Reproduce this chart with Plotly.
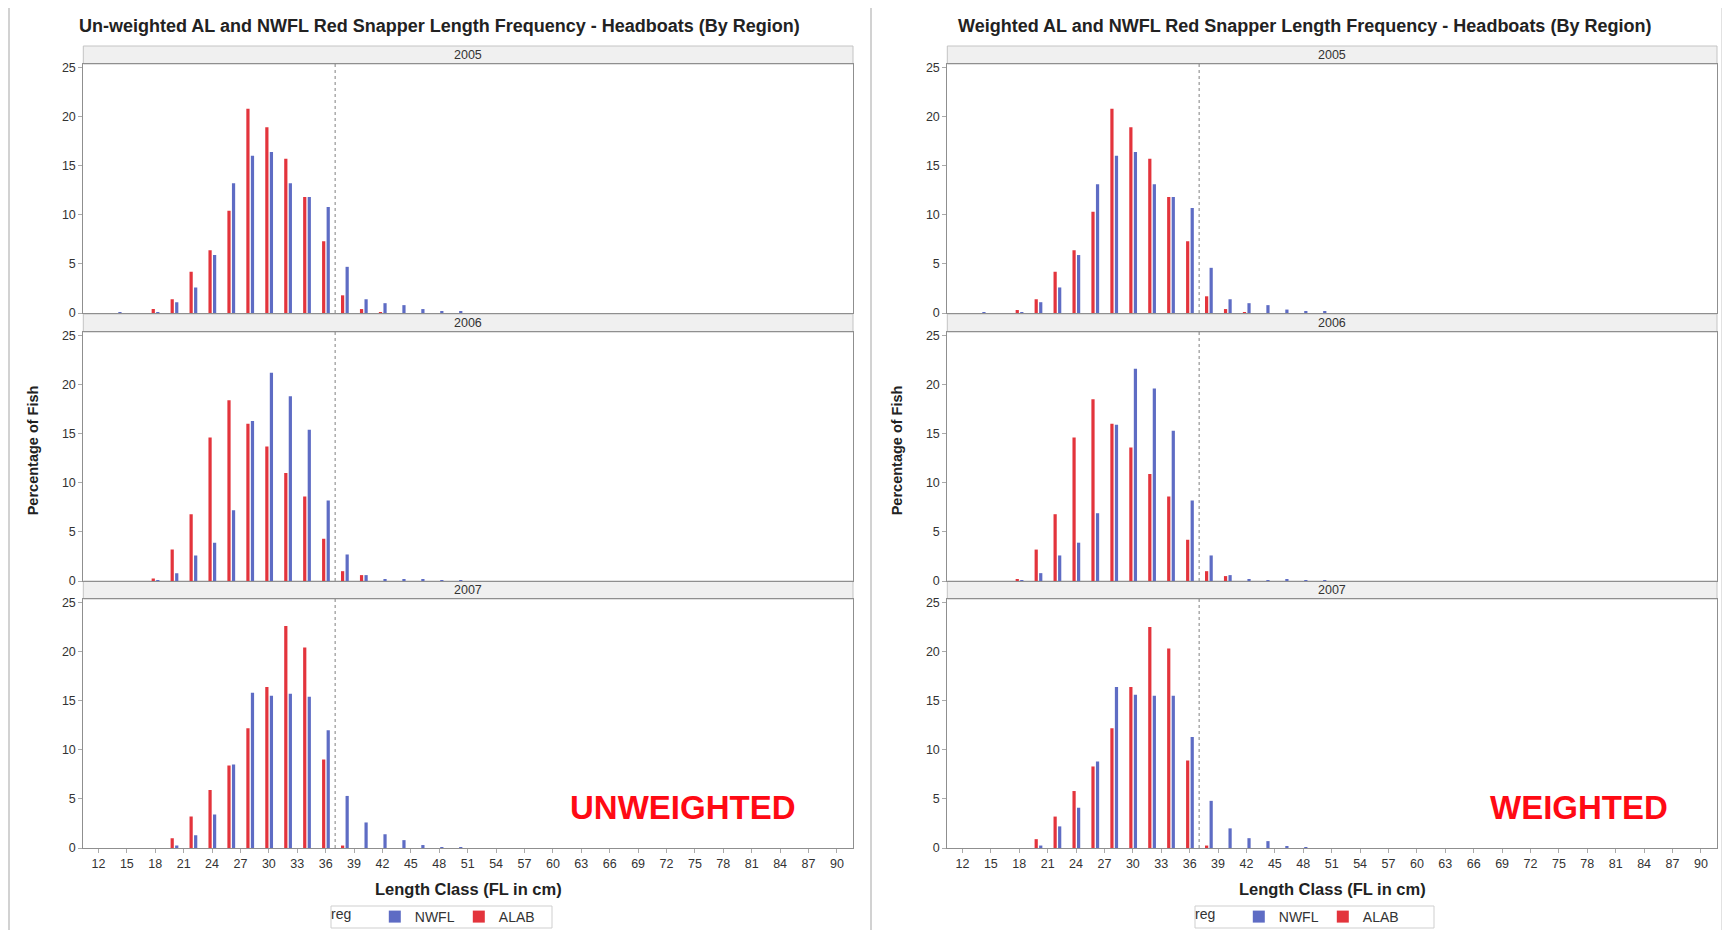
import plotly.graph_objects as go

# the page body adds an 8px margin, so the figure is drawn 8px in from the corner
OFF = 8
W, H = 1730 - 2 * OFF, 938 - 2 * OFF

# length classes (cm) that carry bars, and x tick labels
lengths = list(range(14, 52, 2))
tick_vals = list(range(12, 91, 3))
years = ['2005', '2006', '2007']
size_limit = 37

# percentage of fish - un-weighted
unw_alab_2005 = [0, 0, 0.4, 1.4, 4.2, 6.4, 10.4, 20.8, 18.9, 15.7, 11.8, 7.3, 1.8, 0.4, 0.05, 0, 0, 0, 0]
unw_nwfl_2005 = [0.05, 0, 0.05, 1.1, 2.6, 5.9, 13.2, 16.0, 16.4, 13.2, 11.8, 10.8, 4.7, 1.4, 1.0, 0.8, 0.4, 0.2, 0.2]
unw_alab_2006 = [0, 0, 0.25, 3.2, 6.8, 14.6, 18.4, 16.0, 13.7, 11.0, 8.6, 4.3, 1.0, 0.6, 0, 0, 0, 0, 0]
unw_nwfl_2006 = [0, 0, 0.05, 0.8, 2.6, 3.9, 7.2, 16.3, 21.2, 18.8, 15.4, 8.2, 2.7, 0.6, 0.2, 0.15, 0.15, 0.05, 0.05]
unw_alab_2007 = [0, 0, 0, 1.0, 3.2, 5.9, 8.4, 12.2, 16.4, 22.6, 20.4, 9.0, 0.25, 0, 0, 0, 0, 0, 0]
unw_nwfl_2007 = [0, 0, 0, 0.25, 1.3, 3.4, 8.5, 15.8, 15.5, 15.7, 15.4, 12.0, 5.3, 2.6, 1.4, 0.8, 0.3, 0.1, 0.05]

# percentage of fish - weighted
wtd_alab_2005 = [0, 0, 0.3, 1.4, 4.2, 6.4, 10.3, 20.8, 18.9, 15.7, 11.8, 7.3, 1.7, 0.4, 0.1, 0, 0, 0, 0]
wtd_nwfl_2005 = [0.05, 0, 0.05, 1.1, 2.6, 5.9, 13.1, 16.0, 16.4, 13.1, 11.8, 10.7, 4.6, 1.4, 1.0, 0.8, 0.35, 0.15, 0.15]
wtd_alab_2006 = [0, 0, 0.2, 3.2, 6.8, 14.6, 18.5, 16.0, 13.6, 10.9, 8.6, 4.2, 1.0, 0.5, 0, 0, 0, 0, 0]
wtd_nwfl_2006 = [0, 0, 0.05, 0.8, 2.6, 3.9, 6.9, 15.9, 21.6, 19.6, 15.3, 8.2, 2.6, 0.6, 0.15, 0.1, 0.15, 0.05, 0.05]
wtd_alab_2007 = [0, 0, 0, 0.9, 3.2, 5.8, 8.3, 12.2, 16.4, 22.5, 20.3, 8.9, 0.25, 0, 0, 0, 0, 0, 0]
wtd_nwfl_2007 = [0, 0, 0, 0.25, 2.2, 4.1, 8.8, 16.4, 15.6, 15.5, 15.5, 11.3, 4.8, 2.0, 1.0, 0.7, 0.15, 0.05, 0]

RED = '#E3343C'
BLUE = '#5E6CC4'
FRAME = '#8f8f8f'
FONT = 'Liberation Sans, Arial, sans-serif'

panels = [
    {
        'title': 'Un-weighted AL and NWFL Red Snapper Length Frequency - Headboats (By Region)',
        'tag': 'UNWEIGHTED',
        'alab': [unw_alab_2005, unw_alab_2006, unw_alab_2007],
        'nwfl': [unw_nwfl_2005, unw_nwfl_2006, unw_nwfl_2007],
        'x_px': (83.3, 853), 'border_px': 9, 'title_x': 439, 'tag_x': 683,
        'legend': 'legend', 'legend_box': (331, 552),
    },
    {
        'title': 'Weighted AL and NWFL Red Snapper Length Frequency - Headboats (By Region)',
        'tag': 'WEIGHTED',
        'alab': [wtd_alab_2005, wtd_alab_2006, wtd_alab_2007],
        'nwfl': [wtd_nwfl_2005, wtd_nwfl_2006, wtd_nwfl_2007],
        'x_px': (947.3, 1717), 'border_px': 871, 'title_x': 1304, 'tag_x': 1579,
        'legend': 'legend2', 'legend_box': (1195, 1434),
    },
]

# plot rows in page pixels: (top, bottom)
rows_px = [(64, 313), (332, 581), (599, 848)]
strip_h = 18


def py(px):
    return 1 - (px - OFF) / H


def px_x(px):
    return (px - OFF) / W


fig = go.Figure()
layout = {}
shapes = []
annotations = []


def note(text, x, y, size, color='#222222', angle=0):
    annotations.append(dict(
        text=text, xref='paper', yref='paper', x=x, y=y,
        xanchor='center', yanchor='middle', showarrow=False, textangle=angle,
        font=dict(size=size, color=color),
    ))


for p, panel in enumerate(panels):
    x0, x1 = panel['x_px']
    for r, year in enumerate(years):
        idx = p * 3 + r + 1
        top, bot = rows_px[r]
        suffix = '' if idx == 1 else str(idx)

        fig.add_trace(go.Bar(
            x=lengths, y=panel['nwfl'][r], name='NWFL',
            xaxis='x' + suffix, yaxis='y' + suffix,
            width=0.34, offset=0.1, marker_color=BLUE, marker_line_width=0,
            legend=panel['legend'], legendgroup='nwfl' + str(p), showlegend=(r == 0),
        ))
        fig.add_trace(go.Bar(
            x=lengths, y=panel['alab'][r], name='ALAB',
            xaxis='x' + suffix, yaxis='y' + suffix,
            width=0.34, offset=-0.38, marker_color=RED, marker_line_width=0,
            legend=panel['legend'], legendgroup='alab' + str(p), showlegend=(r == 0),
        ))

        layout['xaxis' + suffix] = dict(
            domain=[px_x(x0), px_x(x1)], range=[10.4, 91.7], anchor='y' + suffix,
            tickvals=tick_vals if r == 2 else [], showticklabels=(r == 2),
            ticks='outside' if r == 2 else '', ticklen=4, tickcolor='#aaaaaa',
            showline=True, linecolor=FRAME, linewidth=1, mirror=True,
            showgrid=False, zeroline=False, tickfont=dict(size=12.5, color='#333333'),
        )
        layout['yaxis' + suffix] = dict(
            domain=[py(bot), py(top)], range=[0, 25.35], anchor='x' + suffix,
            tickvals=[0, 5, 10, 15, 20, 25], ticks='outside', ticklen=4, tickcolor='#aaaaaa',
            showline=True, linecolor=FRAME, linewidth=1, mirror=True,
            showgrid=False, zeroline=False, tickfont=dict(size=12.5, color='#333333'),
        )

        # year strip
        shapes.append(dict(
            type='rect', xref='paper', yref='paper',
            x0=px_x(x0), x1=px_x(x1), y0=py(top), y1=py(top - strip_h),
            fillcolor='#f0f0f0', line=dict(color='#c4c4c4', width=1), layer='below',
        ))
        note(year, px_x((x0 + x1) / 2), py(top - strip_h / 2), 12.5, '#333333')
        # reference line at the size limit
        shapes.append(dict(
            type='line', xref='x' + suffix, yref='y' + suffix + ' domain',
            x0=size_limit, x1=size_limit, y0=0, y1=1,
            line=dict(color='#808080', width=1, dash='dot'),
        ))

    note('<b>' + panel['title'] + '</b>', px_x(panel['title_x']), py(26), 18)
    note('<b>Length Class (FL in cm)</b>', px_x((x0 + x1) / 2), py(889), 16.5)
    note('<b>Percentage of Fish</b>', px_x(x0 - 50), py(450), 14.5, angle=-90)
    note('<b>' + panel['tag'] + '</b>', px_x(panel['tag_x']), py(807), 33, '#FF0A14')

    # panel border
    bx = panel['border_px']
    shapes.append(dict(
        type='line', xref='paper', yref='paper', x0=px_x(bx), x1=px_x(bx), y0=0, y1=1,
        line=dict(color='#d2d2d2', width=2),
    ))

    # legend frame
    lx0, lx1 = panel['legend_box']
    shapes.append(dict(
        type='rect', xref='paper', yref='paper',
        x0=px_x(lx0), x1=px_x(lx1), y0=py(928), y1=py(906),
        fillcolor='white', line=dict(color='#cfcfcf', width=1),
    ))
    layout[panel['legend']] = dict(
        orientation='h', x=px_x(lx0 - 2), xanchor='left',
        y=py(917), yanchor='middle', bgcolor='rgba(0,0,0,0)', borderwidth=0,
        title=dict(text='reg&nbsp;&nbsp;&nbsp;&nbsp;', side='left',
                   font=dict(size=14, color='#333333')),
        font=dict(size=14, color='#333333'), entrywidth=39, itemwidth=30,
        traceorder='normal', tracegroupgap=0,
    )

shapes.append(dict(
    type='line', xref='paper', yref='paper', x0=px_x(1722), x1=px_x(1722), y0=0, y1=1,
    line=dict(color='#e2e2e2', width=2),
))

fig.update_layout(
    width=W, height=H,
    margin=dict(l=0, r=0, t=0, b=0, autoexpand=False),
    paper_bgcolor='white', plot_bgcolor='white',
    font=dict(family=FONT, color='#333333'),
    barmode='overlay',
    shapes=shapes, annotations=annotations,
    **layout,
)

fig.write_html("out.html")
